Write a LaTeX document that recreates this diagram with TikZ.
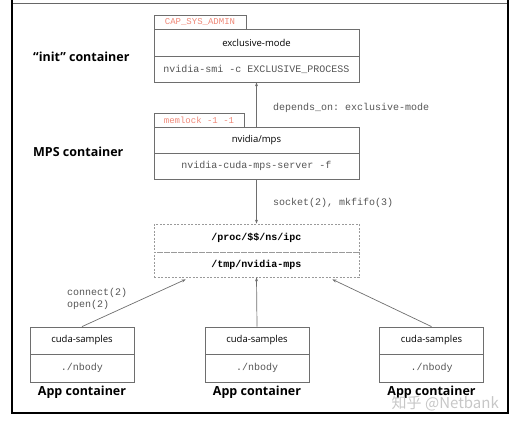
\documentclass[tikz,border=0pt]{standalone}
\usepackage{fontspec}
\setmainfont{Open Sans}
\setmonofont{Liberation Mono}
\newfontfamily\cjkfont{Noto Sans CJK SC}
\usetikzlibrary{calc,arrows.meta}
\definecolor{lineg}{HTML}{6E6E6E}
\definecolor{divg}{HTML}{9A9A9A}
\definecolor{monog}{HTML}{555555}
\definecolor{tabred}{HTML}{EE8878}
\tikzset{
  boxpart/.style={draw=lineg, line width=0.8pt, minimum width=205pt, inner sep=0pt, font=\fontsize{9.5}{11}\selectfont},
  cmdpart/.style={boxpart, text=monog, font=\ttfamily\fontsize{10}{12}\selectfont},
  apppart/.style={boxpart, minimum width=104pt},
  appcmd/.style={cmdpart, minimum width=104pt},
  tabbox/.style={draw=lineg, line width=0.8pt, inner sep=0pt, minimum height=14pt, text=tabred, font=\ttfamily\fontsize{9}{10}\selectfont},
  biglabel/.style={font=\bfseries\fontsize{12.5}{14}\selectfont, inner sep=0pt},
  edgelabel/.style={text=monog, font=\ttfamily\fontsize{10}{12}\selectfont, inner sep=0pt, anchor=west},
  conn/.style={draw=lineg, line width=0.7pt, -{Stealth[length=4pt,width=3pt]}},
  dashedpart/.style={boxpart, draw=divg, dashed, dash pattern=on 2pt off 1.5pt}
}
\begin{document}
\begin{tikzpicture}[x=1pt,y=-1pt]
\useasboundingbox (0,0) rectangle (518,425);
% frame
\draw[draw=gray!80!black, line width=1.6pt] (12,3.5) -- (508,3.5);
\draw[line width=2pt] (12,0) -- (12,413) -- (508,413) -- (508,0);

% init container
\node[tabbox, minimum width=92pt] (captab) at (200,22) {CAP\_SYS\_ADMIN};
\node[boxpart, minimum height=27pt] (init) at (256.5,42.5) {exclusive-mode};
\node[cmdpart, minimum height=26pt] (initcmd) at (256.5,69) {nvidia-smi -c EXCLUSIVE\_PROCESS};
\node[biglabel, anchor=west] (initlbl) at (33,57) {“init” container};

% MPS container
\node[tabbox, minimum width=90pt] (memtab) at (199,120) {memlock -1 -1};
\node[boxpart, minimum height=26pt] (mps) at (256.5,140) {nvidia/mps};
\node[cmdpart, minimum height=26pt] (mpscmd) at (256.5,166) {nvidia-cuda-mps-server -f};
\node[biglabel, anchor=west] (mpslbl) at (33,152) {MPS container};

% IPC box
\node[dashedpart, minimum height=28pt, font=\ttfamily\bfseries\fontsize{10}{12}\selectfont] (ipc) at (256.5,238) {/proc/\$\$/ns/ipc};
\node[dashedpart, minimum height=25pt, font=\ttfamily\bfseries\fontsize{10}{12}\selectfont] (tmp) at (256.5,264.5) {/tmp/nvidia-mps};

% App containers
\node[apppart, minimum height=27pt] (appA) at (82,340.5) {cuda-samples};
\node[appcmd, minimum height=28pt] (appAcmd) at (82,368) {./nbody};
\node[biglabel] (appAlbl) at (82,392) {App container};

\node[apppart, minimum height=27pt] (appB) at (257,340.5) {cuda-samples};
\node[appcmd, minimum height=28pt] (appBcmd) at (257,368) {./nbody};
\node[biglabel] (appBlbl) at (257,392) {App container};

\node[apppart, minimum height=27pt] (appC) at (431.5,340.5) {cuda-samples};
\node[appcmd, minimum height=28pt] (appCcmd) at (431.5,368) {./nbody};
\node[biglabel] (appClbl) at (431.5,392) {App container};

% connectors
\draw[conn] (mps.north) -- (initcmd.south);
\draw[conn] (mpscmd.south) -- (ipc.north);
\coordinate (tmpL) at ($(tmp.south west)+(32,2)$);
\coordinate (tmpR) at ($(tmp.south east)+(-27,2)$);
\draw[conn] (appA.north) -- (tmpL);
\draw[conn] (appB.north) -- (tmp.south);
\draw[conn] (appC.north) -- (tmpR);

% edge labels
\node[edgelabel] (dep) at (273,108) {depends\_on: exclusive-mode};
\node[edgelabel] (sock) at (273,203) {socket(2), mkfifo(3)};
\node[edgelabel] (conn1) at (67,293) {connect(2)};
\node[edgelabel] (open1) at (67,305) {open(2)};

% watermark
\node[text=black!22, font=\cjkfont\fontsize{15}{17}\selectfont, inner sep=0pt, anchor=east] (wm) at (499,403.5) {知乎 @Netbank};
\end{tikzpicture}
\end{document}
